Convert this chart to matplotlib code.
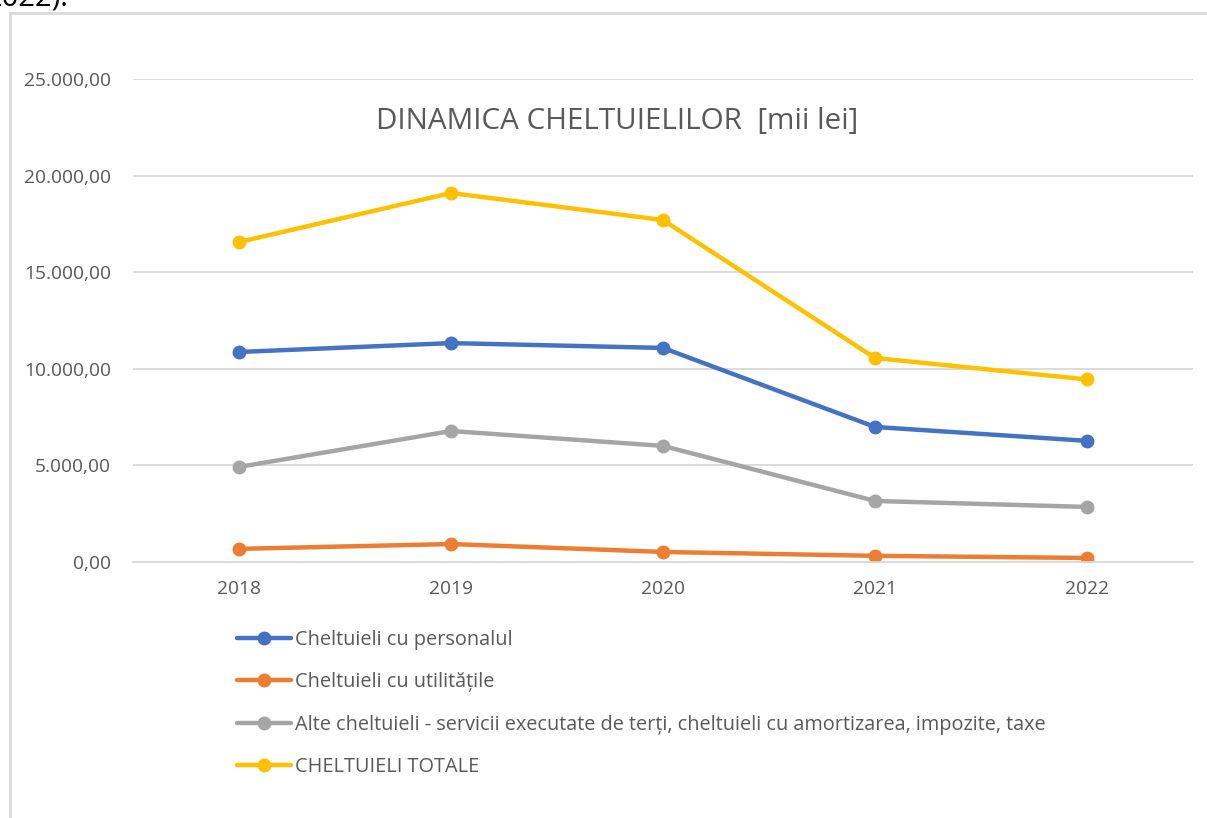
import matplotlib.pyplot as plt
from matplotlib.lines import Line2D
from matplotlib.ticker import FuncFormatter

# data (mii lei)
years = ['2018', '2019', '2020', '2021', '2022']
personal = [10870, 11330, 11080, 6990, 6270]
utilitati = [680, 930, 520, 320, 210]
alte = [4920, 6780, 6010, 3160, 2850]
totale = [16560, 19100, 17700, 10560, 9450]

labels = ['Cheltuieli cu personalul',
          'Cheltuieli cu utilitățile',
          'Alte cheltuieli - servicii executate de terți, cheltuieli cu amortizarea, impozite, taxe',
          'CHELTUIELI TOTALE']
colors = ['#4472C4', '#ED7D31', '#A5A5A5', '#FFC000']
series = [personal, utilitati, alte, totale]

plt.rcParams['font.family'] = ['Open Sans', 'DejaVu Sans']

W, H = 1207, 818
fig = plt.figure(figsize=(W / 100, H / 100), dpi=100)
ax = fig.add_axes([133 / W, 1 - 562 / H, (1193 - 133) / W, (562 - 79) / H])

x = range(len(years))
for vals, c, lab in zip(series, colors, labels):
    ax.plot(x, vals, color=c, lw=3.2, marker='o', ms=9, label=lab,
            solid_capstyle='round')

ax.set_xlim(-0.5, len(years) - 0.5)
ax.set_ylim(0, 25000)
ax.set_yticks(range(0, 25001, 5000))
ax.yaxis.set_major_formatter(FuncFormatter(
    lambda v, p: '{:,.2f}'.format(v).replace(',', ' ').replace('.', ',').replace(' ', '.')))
ax.set_xticks(list(x))
ax.set_xticklabels(years)
ax.grid(axis='y', color='#D9D9D9', lw=1.3)
ax.set_axisbelow(True)
for s in ['top', 'right', 'left']:
    ax.spines[s].set_visible(False)
ax.spines['bottom'].set_color('#D9D9D9')
ax.spines['bottom'].set_linewidth(1.3)
ax.tick_params(length=0, colors='#595959', labelsize=13.8)
ax.tick_params(axis='y', pad=16)
ax.tick_params(axis='x', pad=13)

fig.text(617 / W, 1 - 121 / H, 'DINAMICA CHELTUIELILOR  [mii lei]',
         ha='center', va='center', fontsize=21.3, color='#595959')

fig.legend(loc='upper left', bbox_to_anchor=(237 / W, 1 - 630 / H),
           frameon=False, fontsize=14.3, labelcolor='#595959',
           handlelength=2.7, handletextpad=0.2, labelspacing=1.13,
           borderpad=0, borderaxespad=0)

# outer chart frame
fig.add_artist(Line2D([10 / W, 10 / W], [0, 1 - 13 / H], color='#D9D9D9', lw=2))
fig.add_artist(Line2D([10 / W, 1], [1 - 13 / H, 1 - 13 / H], color='#D9D9D9', lw=2))

# text cut off from the page above the chart
fig.text(-0.012, 1 - 5 / H, '2022).', fontsize=21, color='black', va='baseline')

fig.savefig('out.png', dpi=100)
